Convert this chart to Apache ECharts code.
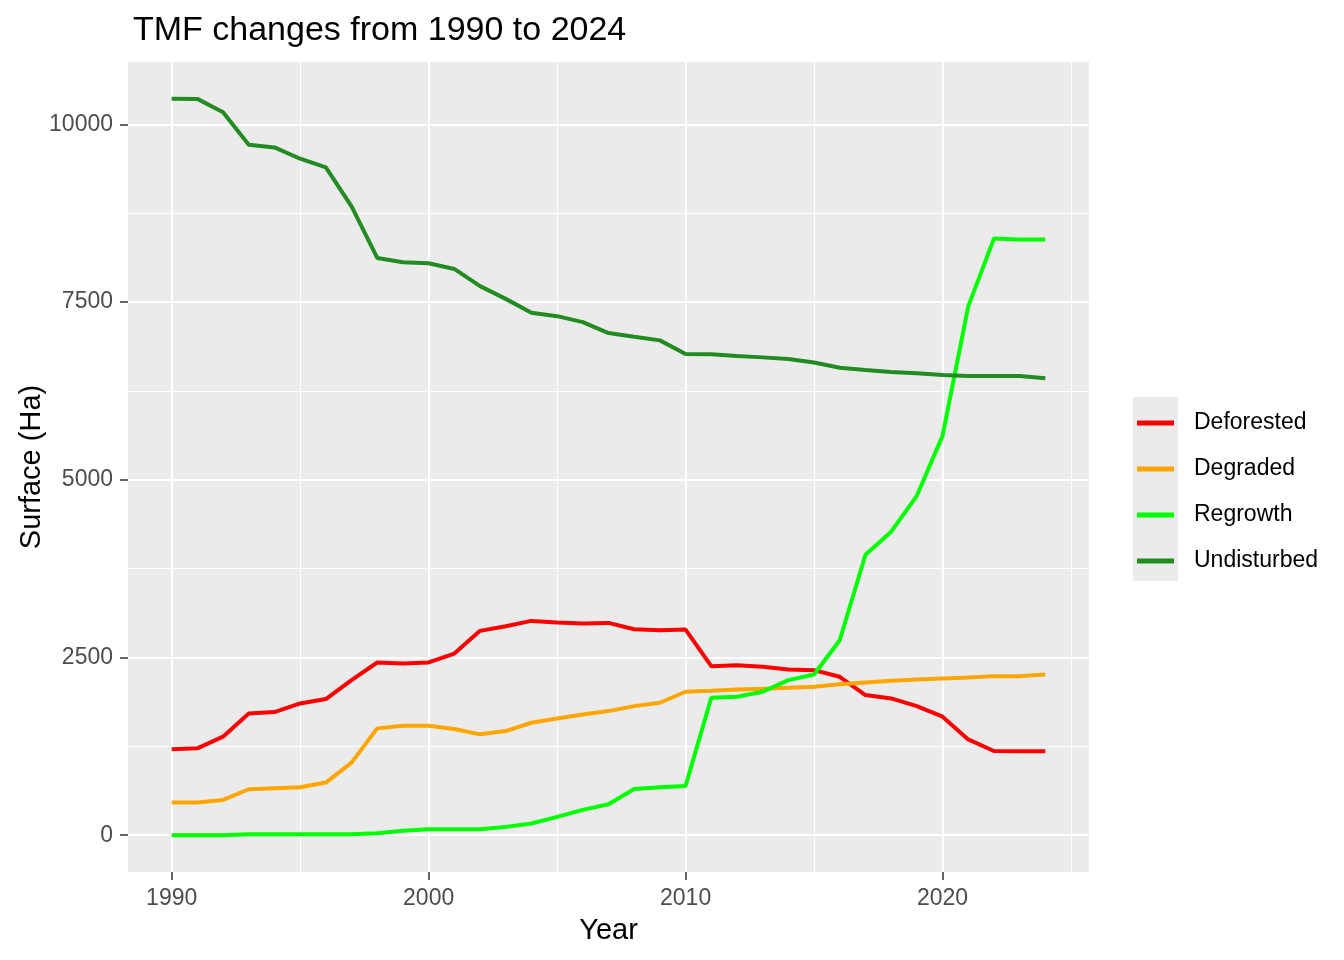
<!DOCTYPE html>
<html>
<head>
<meta charset="utf-8">
<script src="https://cdn.jsdelivr.net/npm/echarts@6/dist/echarts.min.js"></script>
<style>html,body{margin:0;padding:0;background:#fff}#c{width:1344px;height:960px}</style>
</head>
<body>
<div id="c"></div>
<script>
const years = [1990,1991,1992,1993,1994,1995,1996,1997,1998,1999,2000,2001,2002,2003,2004,2005,2006,2007,2008,2009,2010,2011,2012,2013,2014,2015,2016,2017,2018,2019,2020,2021,2022,2023,2024];
const deforested = [1208,1222,1386,1713,1732,1854,1915,2182,2430,2416,2430,2556,2875,2940,3015,2992,2978,2987,2897,2883,2893,2378,2392,2369,2331,2322,2229,1971,1924,1816,1667,1348,1184,1180,1180];
const degraded = [459,459,496,646,660,674,740,1021,1503,1540,1540,1493,1419,1465,1582,1643,1699,1746,1816,1863,2018,2032,2051,2060,2074,2088,2125,2149,2172,2191,2205,2219,2238,2238,2261];
const regrowth = [0,0,0,14,14,14,14,14,28,61,84,84,84,117,164,257,356,435,650,674,693,1934,1947,2018,2182,2261,2743,3946,4270,4775,5618,7440,8394,8380,8380];
const undisturbed = [10361,10360,10173,9715,9677,9518,9396,8848,8122,8062,8048,7967,7725,7546,7350,7303,7219,7065,7012,6962,6770,6767,6742,6723,6699,6652,6578,6545,6517,6498,6475,6461,6461,6461,6428];
const seriesNames = ['Deforested','Degraded','Regrowth','Undisturbed'];
const seriesColors = ['#FF0000','#FFA500','#00FF00','#228B22'];
const xMajor = [1990,2000,2010,2020];
const xMinor = [1995,2005,2015,2025];
const yMajor = [0,2500,5000,7500,10000];
const yMinor = [1250,3750,6250,8750];

const values = [deforested, degraded, regrowth, undisturbed];
const font = 'Liberation Sans, Arial, sans-serif';
const X_MIN = 1988.3, X_MAX = 2025.7, Y_MIN = -518, Y_MAX = 10879;
const plain = v => String(Math.round(v));

const chart = echarts.init(document.getElementById('c'));
chart.setOption({
  animation: false,
  backgroundColor: '#FFFFFF',
  title: {
    text: 'TMF changes from 1990 to 2024',
    left: 128, top: 9,
    textStyle: {fontFamily: font, fontSize: 34, fontWeight: 'normal', color: '#000000'}
  },
  grid: {
    left: 128, right: 255, top: 62, bottom: 88,
    outerBoundsMode: 'none', containLabel: false,
    show: true, backgroundColor: '#EBEBEB', borderWidth: 0
  },
  graphic: [{
    type: 'rect', left: 1133, top: 397, shape: {width: 45, height: 184},
    style: {fill: '#EBEBEB'}, z: -1
  }],
  legend: {
    orient: 'vertical', left: 1137, top: 400, padding: 0, itemGap: 0,
    icon: 'rect', itemWidth: 37, itemHeight: 5,
    data: seriesNames,
    textStyle: {fontFamily: font, fontSize: 23, color: '#000000', lineHeight: 46, padding: [0,0,0,15]}
  },
  xAxis: [{
    type: 'value', min: X_MIN, max: X_MAX,
    name: 'Year', nameLocation: 'middle', nameGap: 44, nameMoveOverlap: false,
    nameTextStyle: {fontFamily: font, fontSize: 29, color: '#000000'},
    axisLine: {show: false, onZero: false},
    axisTick: {show: true, length: 8, customValues: xMajor, lineStyle: {color: '#333333', width: 1.5}},
    axisLabel: {customValues: xMajor, formatter: plain, margin: 15, fontFamily: font, fontSize: 23, color: '#4D4D4D'},
    splitLine: {show: true, lineStyle: {color: '#FFFFFF', width: 2}}
  }, {
    type: 'value', min: X_MIN, max: X_MAX, position: 'bottom',
    axisLine: {show: false, onZero: false},
    axisTick: {show: false, customValues: xMinor},
    axisLabel: {show: false, customValues: xMinor},
    splitLine: {show: true, lineStyle: {color: '#FFFFFF', width: 1}}
  }],
  yAxis: [{
    type: 'value', min: Y_MIN, max: Y_MAX,
    name: 'Surface (Ha)', nameLocation: 'middle', nameGap: 82, nameRotate: 90, nameMoveOverlap: false,
    nameTextStyle: {fontFamily: font, fontSize: 29, color: '#000000'},
    axisLine: {show: false, onZero: false},
    axisTick: {show: true, length: 8, customValues: yMajor, lineStyle: {color: '#333333', width: 1.5}},
    axisLabel: {customValues: yMajor, formatter: plain, margin: 15, fontFamily: font, fontSize: 23, color: '#4D4D4D'},
    splitLine: {show: true, lineStyle: {color: '#FFFFFF', width: 2}}
  }, {
    type: 'value', min: Y_MIN, max: Y_MAX, position: 'left',
    axisLine: {show: false, onZero: false},
    axisTick: {show: false, customValues: yMinor},
    axisLabel: {show: false, customValues: yMinor},
    splitLine: {show: true, lineStyle: {color: '#FFFFFF', width: 1}}
  }],
  series: seriesNames.map((n, i) => ({
    name: n, type: 'line', xAxisIndex: 0, yAxisIndex: 0,
    data: years.map((y, j) => [y, values[i][j]]),
    showSymbol: false, symbol: 'none',
    color: seriesColors[i],
    lineStyle: {color: seriesColors[i], width: 4},
    emphasis: {disabled: true}
  }))
});
</script>
</body>
</html>
